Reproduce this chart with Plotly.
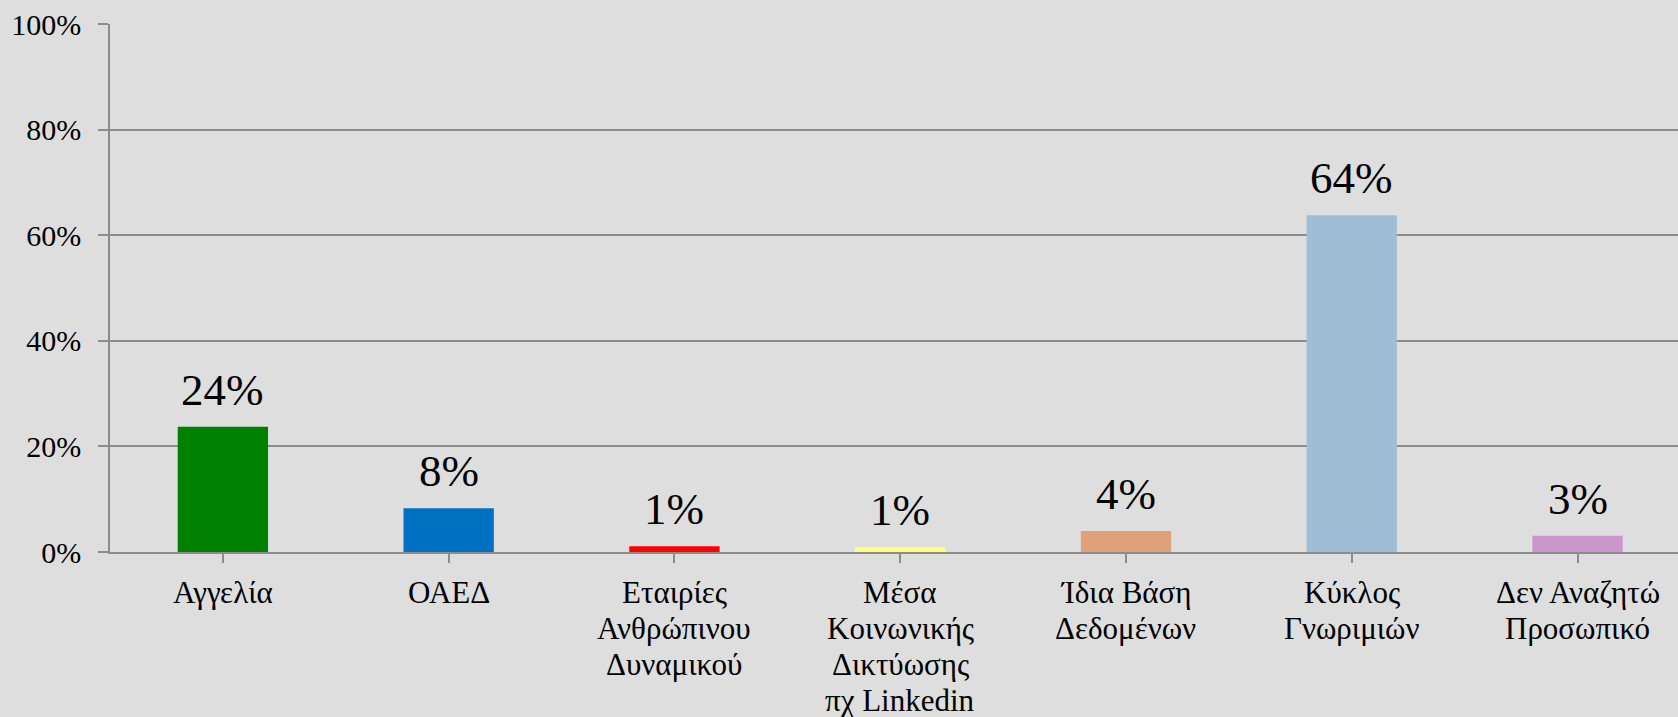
import plotly.graph_objects as go

categories = ["Αγγελία", "ΟΑΕΔ", "Εταιρίες\nΑνθρώπινου\nΔυναμικού",
              "Μέσα\nΚοινωνικής\nΔικτύωσης\nπχ Linkedin",
              "Ίδια Βάση\nΔεδομένων", "Κύκλος\nΓνωριμιών", "Δεν Αναζητώ\nΠροσωπικό"]
values = [0.237, 0.083, 0.011, 0.009, 0.040, 0.638, 0.031]
labels = ["24%", "8%", "1%", "1%", "4%", "64%", "3%"]
colors = ["#008000", "#0070C0", "#FF0000", "#FFFF80", "#E0A07A", "#9FBED6", "#CC95CC"]

FONT = "Liberation Serif"
BG = "#DEDEDE"
GRID = "#8C8C8C"

fig = go.Figure()
fig.add_trace(go.Bar(
    x=list(range(len(categories))), y=values,
    marker=dict(color=colors, line=dict(width=0)),
    width=0.4, hoverinfo="skip",
))

# value labels above bars
for i, (v, t) in enumerate(zip(values, labels)):
    fig.add_annotation(x=i, y=v, text=t, showarrow=False, yanchor="bottom",
                       yshift=10, font=dict(family=FONT, size=45, color="black"))

# category labels, one annotation per line for tight line spacing
for i, cat in enumerate(categories):
    for k, line in enumerate(cat.split("\n")):
        fig.add_annotation(x=i, xref="x", y=0, yref="paper", text=line,
                           showarrow=False, yanchor="middle", xanchor="center",
                           yshift=-(40 + k * 36.2),
                           font=dict(family=FONT, size=31, color="black"))

fig.update_layout(
    width=1678, height=717,
    margin=dict(l=110, r=0, t=24, b=165),
    paper_bgcolor=BG, plot_bgcolor=BG,
    showlegend=False,
    font=dict(family=FONT, color="black"),
)
fig.update_xaxes(
    tickmode="array", tickvals=list(range(len(categories))),
    range=[-0.5, 6.445], showgrid=False, zeroline=False, automargin=False,
    showline=True, linecolor=GRID, linewidth=1.5, showticklabels=False,
    ticks="outside", tickson="boundaries", ticklen=9, tickcolor=GRID, tickwidth=1.5,
)
fig.update_yaxes(
    range=[0, 1], tickvals=[0, 0.2, 0.4, 0.6, 0.8, 1.0], tickformat=".0%",
    showgrid=True, gridcolor=GRID, gridwidth=1.5, zeroline=False, automargin=False,
    showline=True, linecolor=GRID, linewidth=1.5,
    ticks="outside", ticklen=10, tickcolor=GRID, tickwidth=1.5,
    tickfont=dict(family=FONT, size=30, color="black"), ticklabelstandoff=11,
)

fig.write_html("out.html", config={"displayModeBar": False},
               post_script="document.body.style.margin='0';")
